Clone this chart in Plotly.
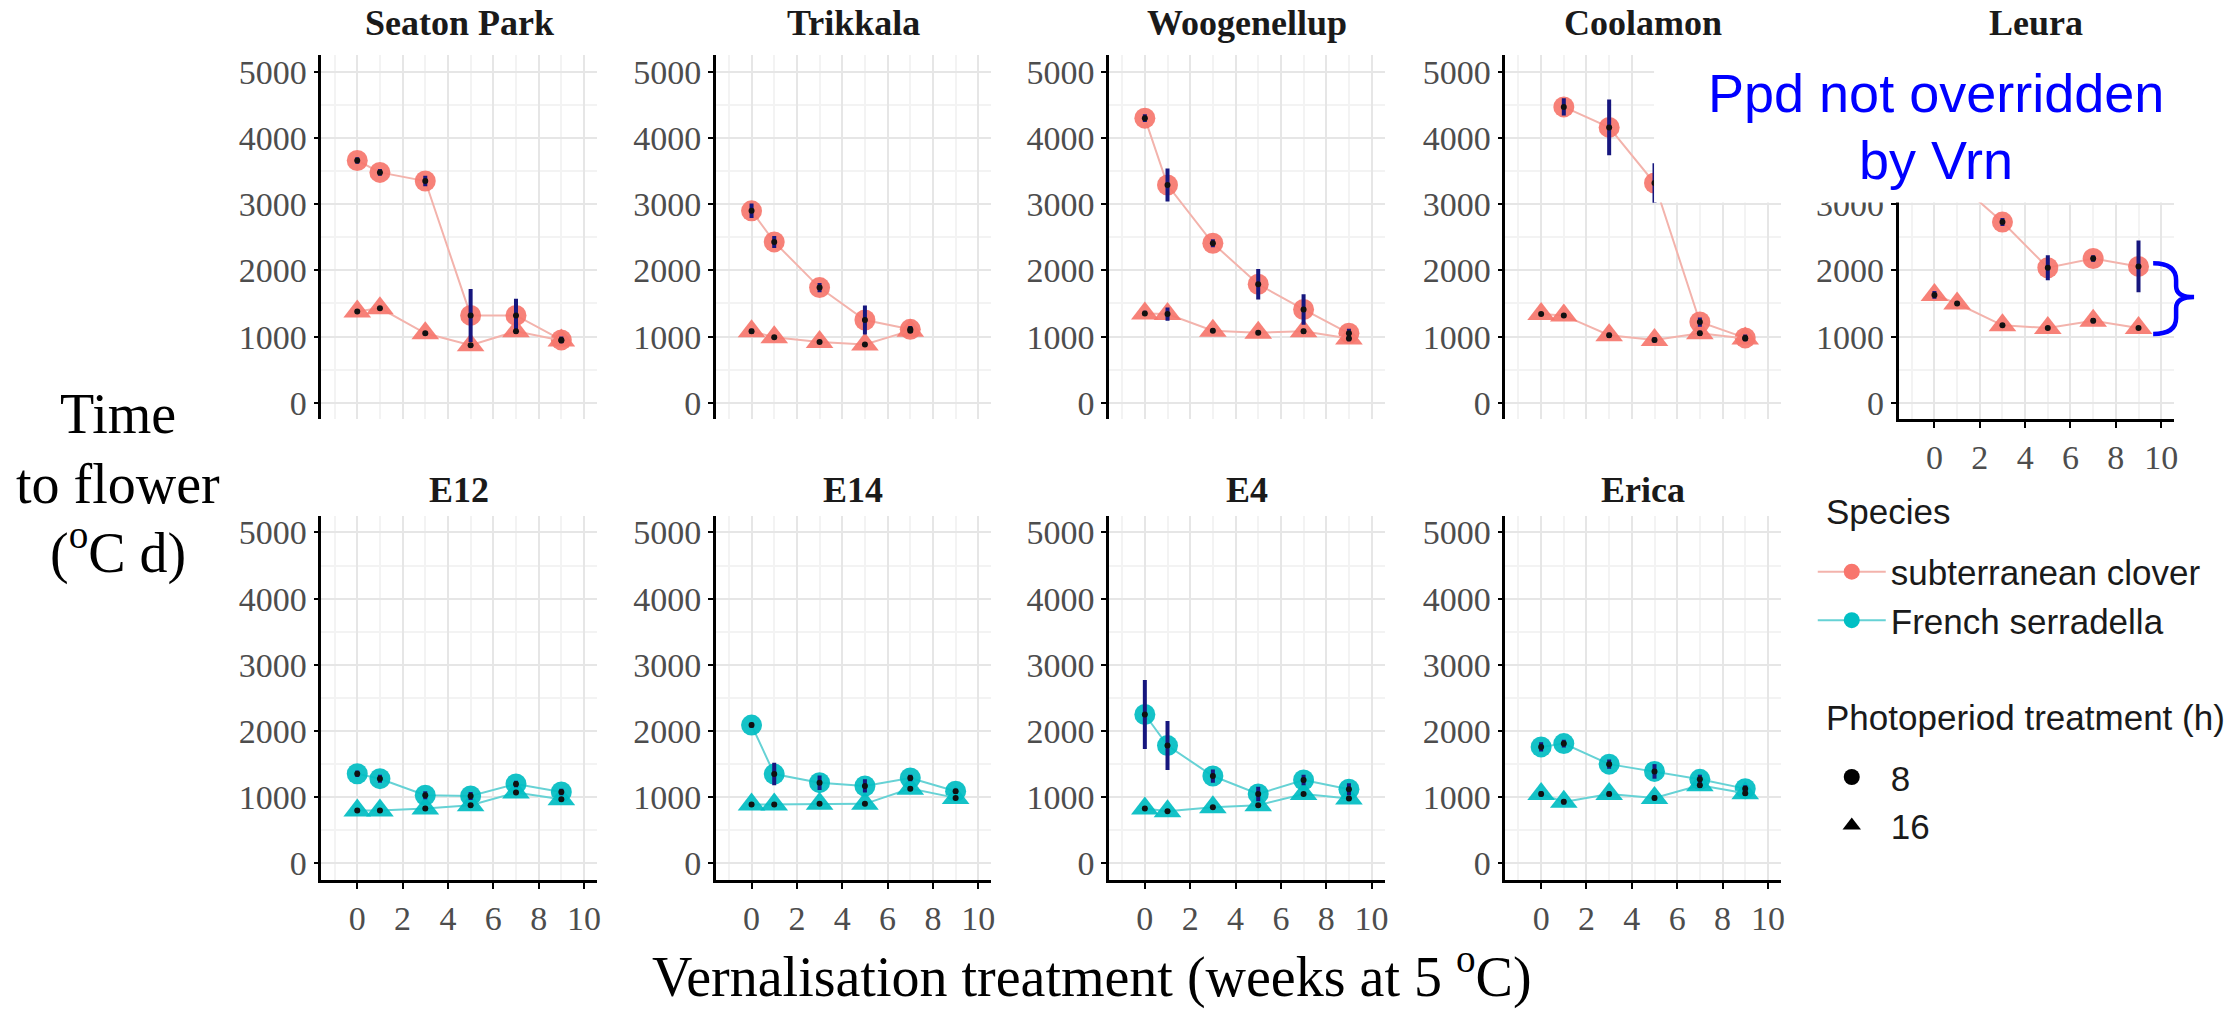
import plotly.graph_objects as go

W, H = 2239, 1011

# ---------------- data ----------------
cultivars = ["Seaton Park", "Trikkala", "Woogenellup", "Coolamon", "Leura",
             "E12", "E14", "E4", "Erica"]
species_of = ["subterranean clover"] * 5 + ["French serradella"] * 4

seaton_x8 = [0, 1, 3, 5, 7, 9]
seaton_8h = [3660, 3480, 3350, 1320, 1320, 950]
seaton_8h_se = [50, 50, 80, 400, 250, 50]
seaton_x16 = [0, 1, 3, 5, 7, 9]
seaton_16h = [1380, 1430, 1050, 870, 1080, 940]
seaton_16h_se = [30, 30, 30, 30, 40, 30]

trikkala_x8 = [0, 1, 3, 5, 7]
trikkala_8h = [2900, 2430, 1740, 1250, 1110]
trikkala_8h_se = [110, 90, 70, 220, 50]
trikkala_x16 = [0, 1, 3, 5, 7]
trikkala_16h = [1080, 990, 920, 880, 1090]
trikkala_16h_se = [40, 30, 30, 30, 30]

wooge_x8 = [0, 1, 3, 5, 7, 9]
wooge_8h = [4300, 3290, 2410, 1790, 1410, 1050]
wooge_8h_se = [60, 250, 60, 230, 230, 70]
wooge_x16 = [0, 1, 3, 5, 7, 9]
wooge_16h = [1350, 1340, 1090, 1060, 1080, 970]
wooge_16h_se = [40, 100, 30, 30, 40, 40]

coolamon_x8 = [1, 3, 5, 7, 9]
coolamon_8h = [4470, 4160, 3320, 1220, 980]
coolamon_8h_se = [130, 420, 300, 70, 50]
coolamon_x16 = [0, 1, 3, 5, 7, 9]
coolamon_16h = [1340, 1320, 1020, 950, 1050, 970]
coolamon_16h_se = [30, 30, 40, 40, 40, 30]

leura_x8 = [0, 1, 3, 5, 7, 9]
leura_8h = [3750, 3330, 2730, 2040, 2180, 2060]
leura_8h_se = [60, 60, 60, 190, 50, 390]
leura_x16 = [0, 1, 3, 5, 7, 9]
leura_16h = [1630, 1500, 1170, 1130, 1240, 1130]
leura_16h_se = [60, 30, 30, 30, 40, 30]

e12_x8 = [0, 1, 3, 5, 7, 9]
e12_8h = [1355, 1280, 1030, 1020, 1200, 1080]
e12_8h_se = [50, 60, 60, 60, 50, 50]
e12_x16 = [0, 1, 3, 5, 7, 9]
e12_16h = [800, 800, 830, 880, 1070, 970]
e12_16h_se = [30, 30, 30, 30, 30, 30]

e14_x8 = [0, 1, 3, 5, 7, 9]
e14_8h = [2090, 1350, 1220, 1170, 1290, 1090]
e14_8h_se = [40, 170, 110, 100, 50, 40]
e14_x16 = [0, 1, 3, 5, 7, 9]
e14_16h = [890, 890, 900, 900, 1130, 990]
e14_16h_se = [30, 30, 30, 30, 30, 30]

e4_x8 = [0, 1, 3, 5, 7, 9]
e4_8h = [2250, 1780, 1320, 1050, 1260, 1120]
e4_8h_se = [520, 370, 100, 110, 80, 90]
e4_x16 = [0, 1, 3, 5, 7, 9]
e4_16h = [830, 790, 850, 880, 1050, 980]
e4_16h_se = [30, 30, 30, 30, 30, 30]

erica_x8 = [0, 1, 3, 5, 7, 9]
erica_8h = [1760, 1810, 1500, 1390, 1270, 1130]
erica_8h_se = [70, 60, 70, 110, 70, 50]
erica_x16 = [0, 1, 3, 5, 7, 9]
erica_16h = [1050, 930, 1050, 990, 1180, 1060]
erica_16h_se = [40, 40, 40, 40, 40, 40]

panel_data = [
    (seaton_x8, seaton_8h, seaton_8h_se, seaton_x16, seaton_16h, seaton_16h_se),
    (trikkala_x8, trikkala_8h, trikkala_8h_se, trikkala_x16, trikkala_16h, trikkala_16h_se),
    (wooge_x8, wooge_8h, wooge_8h_se, wooge_x16, wooge_16h, wooge_16h_se),
    (coolamon_x8, coolamon_8h, coolamon_8h_se, coolamon_x16, coolamon_16h, coolamon_16h_se),
    (leura_x8, leura_8h, leura_8h_se, leura_x16, leura_16h, leura_16h_se),
    (e12_x8, e12_8h, e12_8h_se, e12_x16, e12_16h, e12_16h_se),
    (e14_x8, e14_8h, e14_8h_se, e14_x16, e14_16h, e14_16h_se),
    (e4_x8, e4_8h, e4_8h_se, e4_x16, e4_16h, e4_16h_se),
    (erica_x8, erica_8h, erica_8h_se, erica_x16, erica_16h, erica_16h_se),
]

y_ticks = [0, 1000, 2000, 3000, 4000, 5000]
leura_y_ticks = [0, 1000, 2000, 3000]  # upper ticks of Leura lie under the note box
x_ticks = [0, 2, 4, 6, 8, 10]
photoperiods = ["8", "16"]

# ---------------- styling ----------------
fill = {"subterranean clover": "rgba(246,118,108,0.92)", "French serradella": "rgba(0,189,194,0.92)"}
linec = {"subterranean clover": "#F3B3AC", "French serradella": "#66D2D5"}
solid = {"subterranean clover": "#F8766D", "French serradella": "#00BFC4"}
ERR = "#16167E"
SERIF = "Liberation Serif"
SANS = "Liberation Sans"
TICKC = "#4D4D4D"
GRID = "#E6E6E6"
GRID_MINOR = "#F3F3F3"

col_left = [322, 717, 1111, 1508, 1902]
panel_w = 276
rows = [(54.4, 419.6), (516.4, 881.6)]


def px(x):
    return x / W


def py(y):
    return 1 - y / H


fig = go.Figure()
layout = {}
annotations = []

for i, name in enumerate(cultivars):
    row = 0 if i < 5 else 1
    col = i if i < 5 else i - 5
    xa = "x" if i == 0 else f"x{i+1}"
    ya = "y" if i == 0 else f"y{i+1}"
    xkey = "xaxis" if i == 0 else f"xaxis{i+1}"
    ykey = "yaxis" if i == 0 else f"yaxis{i+1}"
    left = col_left[col]
    top, bot = rows[row]
    show_x = (row == 1) or (i == 4)
    yt = leura_y_ticks if i == 4 else y_ticks

    layout[xkey] = dict(
        domain=[px(left), px(left + panel_w)], anchor=ya,
        range=[-1.58, 10.57], tickvals=x_ticks, ticktext=[str(v) for v in x_ticks],
        showgrid=True, gridcolor=GRID, gridwidth=2, zeroline=False,
        minor=dict(dtick=1, tick0=0, showgrid=True, gridcolor=GRID_MINOR, gridwidth=1.5, ticks=""),
        showline=show_x, linecolor="black", linewidth=2.5,
        ticks="outside" if show_x else "", ticklen=6, tickwidth=2, tickcolor="black",
        showticklabels=show_x, tickfont=dict(family=SERIF, size=34, color=TICKC),
    )
    layout[ykey] = dict(
        domain=[py(bot), py(top)], anchor=xa,
        range=[-250, 5250], tickvals=yt, ticktext=[str(v) for v in yt],
        showgrid=True, gridcolor=GRID, gridwidth=2, zeroline=False,
        minor=dict(dtick=500, tick0=0, showgrid=True, gridcolor=GRID_MINOR, gridwidth=1.5, ticks=""),
        showline=True, linecolor="black", linewidth=2.5,
        ticks="outside", ticklen=5, tickwidth=2, tickcolor="black",
        tickfont=dict(family=SERIF, size=34, color=TICKC),
    )

    sp = species_of[i]
    x8, v8, e8, x16, v16, e16 = panel_data[i]
    for xs, vs, sym, sz in [(x8, v8, "circle", 21), (x16, v16, "triangle-up", 24)]:
        fig.add_trace(go.Scatter(
            x=xs, y=vs, mode="lines+markers", xaxis=xa, yaxis=ya,
            line=dict(color=linec[sp], width=2),
            marker=dict(symbol=sym, size=sz, color=fill[sp], line=dict(width=0)),
            showlegend=False, hoverinfo="skip",
        ))
    for xs, vs, es in [(x8, v8, e8), (x16, v16, e16)]:
        fig.add_trace(go.Scatter(
            x=xs, y=vs, mode="markers", xaxis=xa, yaxis=ya,
            marker=dict(symbol="circle", size=6, color="#111111"),
            error_y=dict(type="data", array=es, visible=True, color=ERR, thickness=4, width=0),
            showlegend=False, hoverinfo="skip",
        ))

    title_y = 22 if row == 0 else 490
    annotations.append(dict(
        text=f"<b>{name}</b>", x=px(left + panel_w / 2), y=py(title_y), xref="paper", yref="paper",
        showarrow=False, xanchor="center", yanchor="middle",
        font=dict(family=SERIF, size=36, color="#1A1A1A"),
    ))

# legend entries (two legends: species colour, photoperiod shape)
for sp in ["subterranean clover", "French serradella"]:
    fig.add_trace(go.Scatter(
        x=[None], y=[None], mode="lines+markers", name=sp,
        line=dict(color=linec[sp], width=2),
        marker=dict(symbol="circle", size=16, color=solid[sp]),
        legend="legend",
    ))
for lab, sym in zip(photoperiods, ["circle", "triangle-up"]):
    fig.add_trace(go.Scatter(
        x=[None], y=[None], mode="markers", name=lab,
        marker=dict(symbol=sym, size=16, color="black"),
        legend="legend2",
    ))

LEG_FONT = dict(family=SANS, size=35, color="#1A1A1A")
for txt, yy in [("Species", 512), ("Photoperiod treatment (h)", 719)]:
    annotations.append(dict(
        text=txt, x=px(1827), y=py(yy), xref="paper", yref="paper", showarrow=False,
        xanchor="left", yanchor="middle", font=LEG_FONT,
    ))

# axis titles
for txt, yy in [("Time", 414), ("to flower", 484), ("(<sup>o</sup>C d)", 550)]:
    annotations.append(dict(
        text=txt, x=px(118), y=py(yy), xref="paper", yref="paper", showarrow=False,
        xanchor="center", yanchor="middle", font=dict(family=SERIF, size=56, color="black"),
    ))
annotations.append(dict(
    text="Vernalisation treatment (weeks at 5 <sup>o</sup>C)", x=px(1094), y=py(975),
    xref="paper", yref="paper", showarrow=False, xanchor="center", yanchor="middle",
    font=dict(family=SERIF, size=56, color="black"),
))

# blue annotation
for txt, yy in [("Ppd not overridden", 92), ("by Vrn", 159)]:
    annotations.append(dict(
        text=txt, x=px(1939), y=py(yy), xref="paper", yref="paper", showarrow=False,
        xanchor="center", yanchor="middle", font=dict(family=SANS, size=54, color="#0000FF"),
    ))


def pth(points_cmds):
    out = []
    for cmd, pts in points_cmds:
        coords = " ".join(f"{px(a):.5f},{py(b):.5f}" for a, b in pts)
        out.append(f"{cmd}{coords}")
    return " ".join(out)


brace = pth([
    ("M", [(2157, 263)]),
    ("C", [(2172, 263), (2180, 268), (2180, 280)]),
    ("L", [(2180, 286)]),
    ("C", [(2180, 293), (2186, 297), (2198, 297)]),
    ("C", [(2186, 297), (2180, 301), (2180, 308)]),
    ("L", [(2180, 318)]),
    ("C", [(2180, 329), (2172, 334), (2157, 334)]),
])

shapes = [
    dict(type="rect", xref="paper", yref="paper", x0=px(1657), x1=1.0, y0=py(202), y1=py(46),
         fillcolor="white", line=dict(width=0), layer="above"),
    dict(type="path", xref="paper", yref="paper", path=brace,
         line=dict(color="#0000FF", width=4.5), layer="above"),
]

leg_common = dict(
    x=px(1816), xanchor="left", yanchor="top", font=LEG_FONT,
    itemwidth=68, bgcolor="rgba(0,0,0,0)", borderwidth=0,
)

fig.update_layout(
    width=W, height=H, margin=dict(l=0, r=0, t=0, b=0),
    paper_bgcolor="white", plot_bgcolor="white",
    showlegend=True,
    legend=dict(y=py(543), **leg_common),
    legend2=dict(y=py(749), **leg_common),
    annotations=annotations, shapes=shapes,
    **layout,
)

fig.write_html("out.html")
